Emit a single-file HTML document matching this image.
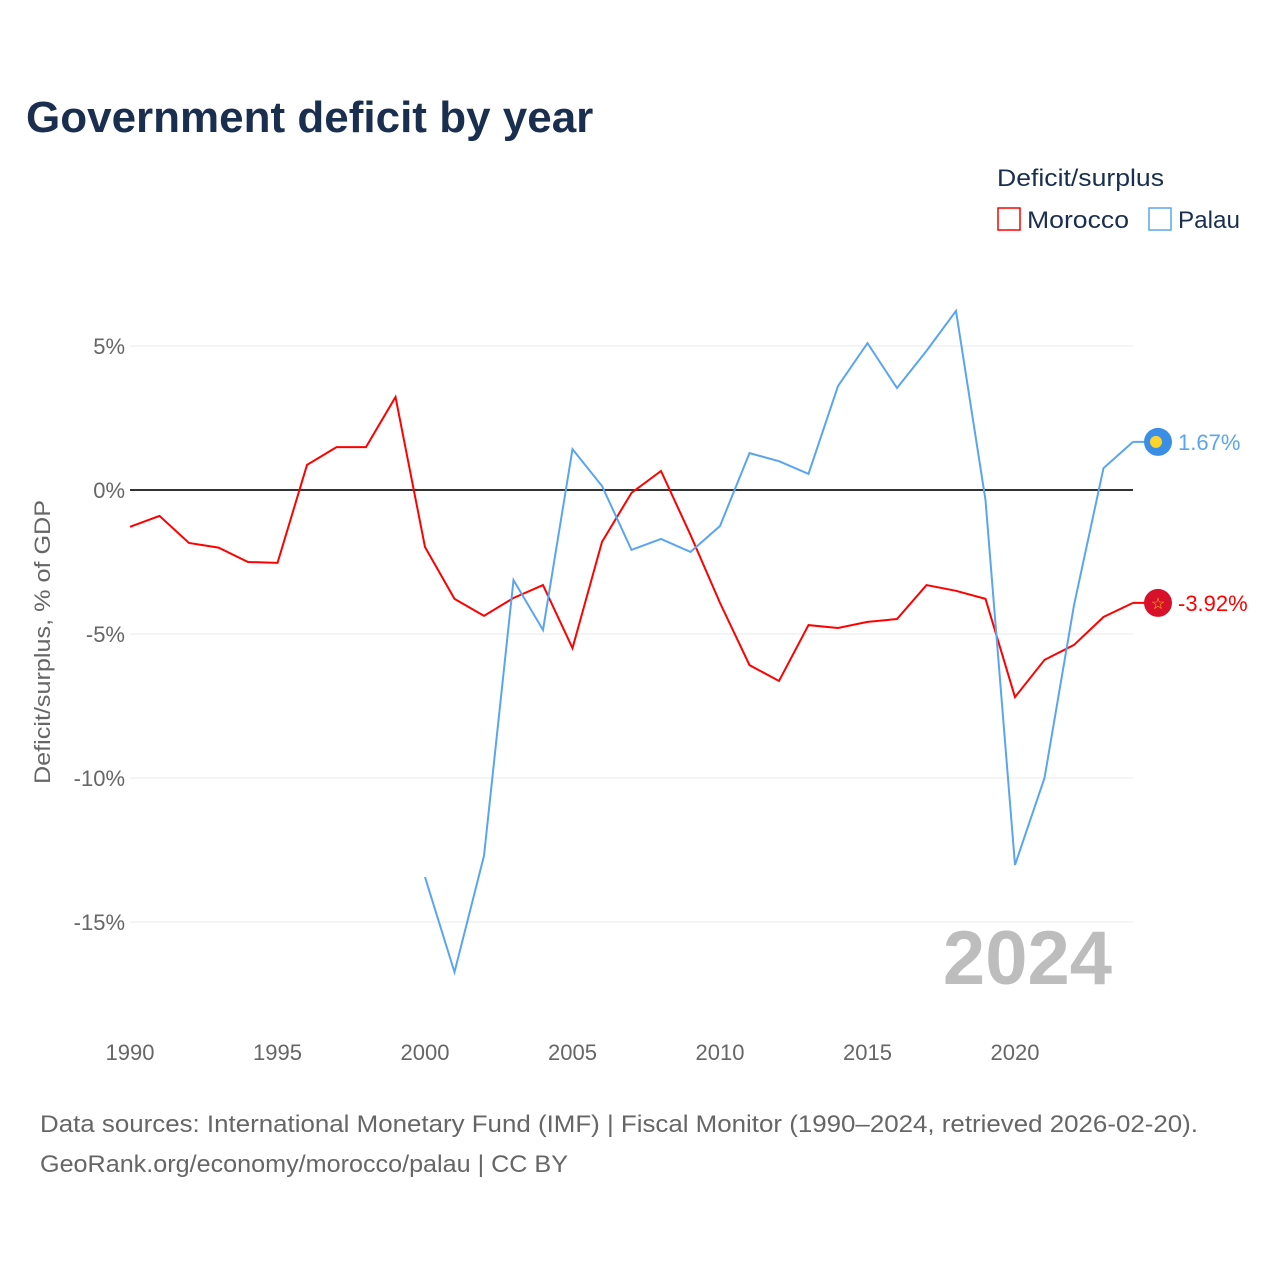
<!DOCTYPE html>
<html><head><meta charset="utf-8"><style>
body{margin:0;background:#fff;font-family:"Liberation Sans",sans-serif;}
svg text{font-family:"Liberation Sans",sans-serif;}
</style></head><body>
<svg id="chart" width="1280" height="1280" xmlns="http://www.w3.org/2000/svg">
<text x="26" y="132" font-size="44" font-weight="bold" fill="#1a2e4f">Government deficit by year</text>
<text x="997" y="186" font-size="24" fill="#1a2e4f" textLength="167" lengthAdjust="spacingAndGlyphs">Deficit/surplus</text>
<g><rect x="998" y="208" width="22" height="22" fill="none" stroke="#ff0000" stroke-width="1.5"/><text x="1027" y="228" font-size="24" fill="#1a2e4f" textLength="102" lengthAdjust="spacingAndGlyphs">Morocco</text></g>
<g><rect x="1149" y="208" width="22" height="22" fill="none" stroke="#5aa5ef" stroke-width="1.5"/><text x="1178" y="228" font-size="24" fill="#1a2e4f" textLength="62" lengthAdjust="spacingAndGlyphs">Palau</text></g>
<text transform="translate(50,642) rotate(-90)" text-anchor="middle" font-size="22" fill="#666" textLength="284" lengthAdjust="spacingAndGlyphs">Deficit/surplus, % of GDP</text>
<g id="grid"></g><g id="series"></g>
<text x="1112" y="984" text-anchor="end" font-size="76" font-weight="bold" fill="#bdbdbd">2024</text>
<text x="40" y="1132" font-size="24" fill="#666" textLength="1158" lengthAdjust="spacingAndGlyphs">Data sources: International Monetary Fund (IMF) | Fiscal Monitor (1990–2024, retrieved 2026-02-20).</text>
<text x="40" y="1172" font-size="24" fill="#666" textLength="528" lengthAdjust="spacingAndGlyphs">GeoRank.org/economy/morocco/palau | CC BY</text>
</svg>
<script>
const years=[];for(let y=1990;y<=2024;y++)years.push(y);
const morocco=[-1.28,-0.9,-1.84,-2.0,-2.5,-2.53,0.87,1.49,1.49,3.23,-1.98,-3.78,-4.37,-3.75,-3.3,-5.49,-1.8,-0.1,0.66,-1.56,-3.92,-6.08,-6.63,-4.69,-4.79,-4.58,-4.48,-3.3,-3.5,-3.78,-7.19,-5.9,-5.38,-4.41,-3.92];
const palauYears=[];for(let y=2000;y<=2024;y++)palauYears.push(y);
const palau=[-13.44,-16.74,-12.7,-3.13,-4.86,1.42,0.14,-2.08,-1.7,-2.15,-1.25,1.28,1.0,0.56,3.61,5.1,3.54,4.83,6.22,-0.35,-13.02,-10.0,-4.0,0.76,1.67];
const yTicks=[5,0,-5,-10,-15];
const xTicks=[1990,1995,2000,2005,2010,2015,2020];
const X=y=>130+(y-1990)*29.5, Y=v=>490-v*28.8;
const NS="http://www.w3.org/2000/svg";
const g=document.getElementById('grid'), s=document.getElementById('series');
function mk(tag,attrs,parent,txt){const e=document.createElementNS(NS,tag);for(const k in attrs)e.setAttribute(k,attrs[k]);if(txt!==undefined)e.textContent=txt;parent.appendChild(e);return e;}
yTicks.forEach(v=>{
 const l=mk('line',{x1:130,x2:1133,y1:Y(v),y2:Y(v),stroke:v===0?'#333':'#e8e8e8','stroke-width':v===0?2:1},g);
 
 
 const t=mk('text',{x:125,y:Y(v)+8,'text-anchor':'end','font-size':22,fill:'#666'},g,v+'%');
 
 
});
xTicks.forEach(y=>{
 const t=mk('text',{x:X(y),y:1060,'text-anchor':'middle','font-size':22,fill:'#666'},g,String(y));
 
 
});
const pm=mk('polyline',{points:years.map((y,i)=>X(y)+','+Y(morocco[i])).join(' '),fill:'none',stroke:'#ff0000','stroke-width':2},s);


const pp=mk('polyline',{points:palauYears.map((y,i)=>X(y)+','+Y(palau[i])).join(' '),fill:'none',stroke:'#5aa5ef','stroke-width':2},s);


const lm=morocco[morocco.length-1], lp=palau[palau.length-1];
mk('line',{x1:X(2024),x2:1150,y1:Y(lp),y2:Y(lp),stroke:'#5aa5ef','stroke-width':2},s);
mk('line',{x1:X(2024),x2:1150,y1:Y(lm),y2:Y(lm),stroke:'#ff0000','stroke-width':2},s);
const fp=mk('circle',{cx:1158,cy:Y(lp),r:14,fill:'#3a8ee6'},s);


mk('circle',{cx:1156,cy:Y(lp),r:6,fill:'#ffd42a'},s);
const fm=mk('circle',{cx:1158,cy:Y(lm),r:14,fill:'#d8102b'},s);


mk('text',{x:1158,y:Y(lm)+6,'text-anchor':'middle','font-size':16,fill:'#f0c020'},s,'☆');
const tp=mk('text',{x:1178,y:Y(lp)+8,'font-size':22,fill:'#5aa5ef'},s,lp.toFixed(2)+'%');


const tm=mk('text',{x:1178,y:Y(lm)+8,'font-size':22,fill:'#ff0000'},s,lm.toFixed(2)+'%');


</script>
</body></html>
